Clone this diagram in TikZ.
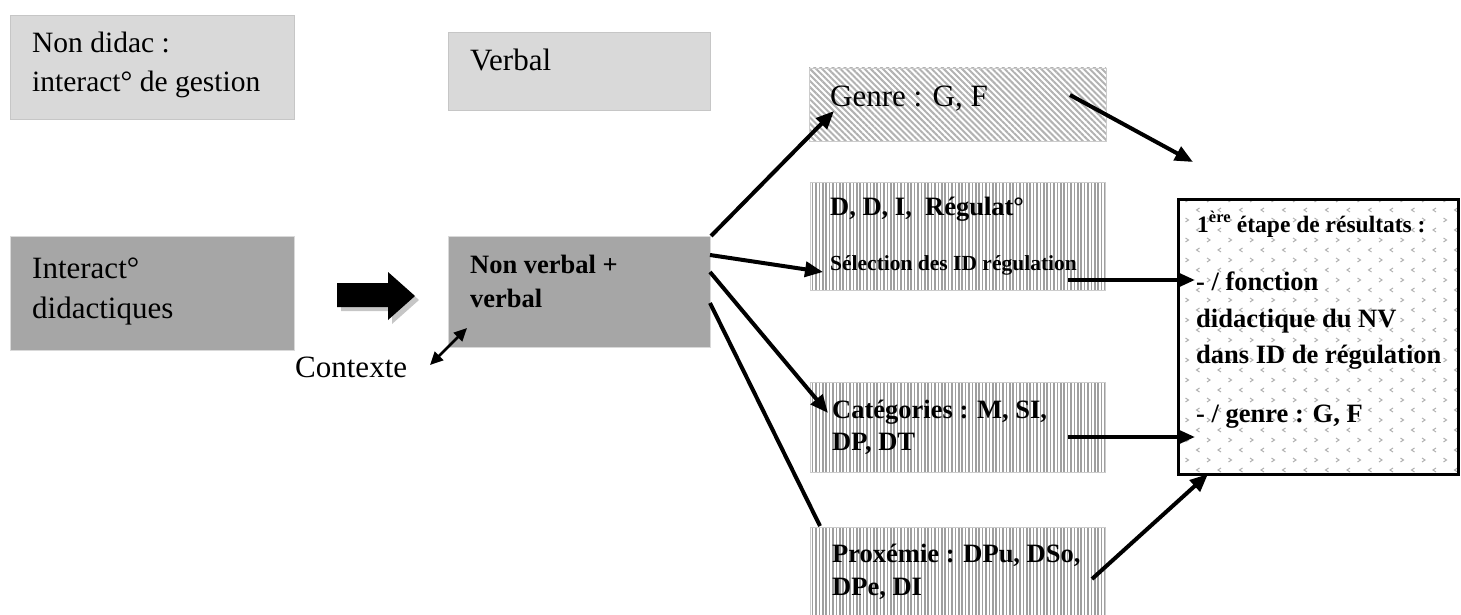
\documentclass[tikz,border=0pt]{standalone}
\usepackage{fontspec}
\setmainfont{Liberation Serif}
\usetikzlibrary{arrows.meta,patterns,patterns.meta,calc}

\pgfdeclarepatternformonly{chevrons}{\pgfpoint{-1pt}{-1pt}}{\pgfpoint{22.5pt}{21pt}}{\pgfpoint{21.5pt}{20pt}}{
  \pgfsetlinewidth{1pt}
  \pgfpathmoveto{\pgfpoint{3pt}{17pt}}\pgfpathlineto{\pgfpoint{6pt}{15pt}}\pgfpathlineto{\pgfpoint{3pt}{13pt}}
  \pgfpathmoveto{\pgfpoint{17pt}{7pt}}\pgfpathlineto{\pgfpoint{14pt}{5pt}}\pgfpathlineto{\pgfpoint{17pt}{3pt}}
  \pgfusepath{stroke}
}

\newcommand\fsreg{\fontsize{31}{38}\selectfont}
\newcommand\fsnd{\fontsize{29.5}{38}\selectfont}
\newcommand\fsbold{\fontsize{26.5}{32}\selectfont\bfseries}
\newcommand\fsboldsm{\fontsize{23.5}{28}\selectfont\bfseries}
\newcommand\fssmall{\fontsize{21.5}{26}\selectfont\bfseries}

\definecolor{lightg}{HTML}{D9D9D9}
\definecolor{darkg}{HTML}{A6A6A6}

\tikzset{
  box/.style={rectangle, inner sep=0pt, anchor=north west},
  lightbox/.style={box, draw=gray!45, fill=lightg, line width=1pt},
  darkbox/.style={box, draw=lightg, fill=darkg, line width=1pt},
  diagbox/.style={box, draw=gray!40, line width=0.8pt, pattern={Lines[angle=-45,distance=4.3pt,line width=2pt]}, pattern color=gray!60},
  vertbox/.style={box, draw=gray!40, line width=0.8pt, pattern={Lines[angle=90,distance=3.4pt,line width=1.7pt]}, pattern color=gray!75},
  resbox/.style={box, draw=black, line width=3pt, pattern=chevrons, pattern color=gray!60},
  txt/.style={anchor=base west, inner sep=0pt},
  arr/.style={line width=4pt, -{Triangle[length=18pt,width=15pt]}},
  plain/.style={line width=4pt},
  darr/.style={line width=2.5pt, {Triangle[length=13pt,width=12pt]}-{Triangle[length=13pt,width=12pt]}}
}

\begin{document}
\begin{tikzpicture}[x=1pt,y=-1pt]
\useasboundingbox (0,0) rectangle (1461,615);

% boxes
\node[lightbox, minimum width=284pt, minimum height=104pt] (nd) at (10,15) {};
\node[lightbox, minimum width=262pt, minimum height=78pt] (verb) at (448,32) {};
\node[darkbox, minimum width=284pt, minimum height=114pt] (inter) at (10,236) {};
\node[darkbox, minimum width=262pt, minimum height=111pt] (nv) at (448,236) {};
\node[diagbox, minimum width=297pt, minimum height=73pt] (genre) at (808,67) {};
\node[vertbox, minimum width=295pt, minimum height=108pt] (ddi) at (810,182) {};
\node[vertbox, minimum width=295pt, minimum height=90pt] (cat) at (810,382) {};
\node[vertbox, minimum width=295pt, minimum height=95pt] (prox) at (810,527) {};
\node[resbox, minimum width=280pt, minimum height=275pt] (res) at (1177,198) {};

% big arrow with shadow
\fill[gray!45] (341,287) -- (392,287) -- (392,276) -- (419,300) -- (392,324) -- (392,311) -- (341,311) -- cycle;
\fill[black] (337,283) -- (388,283) -- (388,272) -- (415,296) -- (388,320) -- (388,307) -- (337,307) -- cycle;

% texts
\node[txt] (nd1) at (32,53) {\fsnd Non didac :};
\node[txt] (nd2) at (32,92) {\fsnd interact° de gestion};
\node[txt] (verbt) at (470,71) {\fsreg Verbal};
\node[txt] (int1) at (32,278) {\fsreg Interact°};
\node[txt] (int2) at (32,318) {\fsreg didactiques};
\node[txt] (nv1) at (470,273) {\fsbold Non verbal +};
\node[txt] (nv2) at (470,307) {\fsbold verbal};
\node[txt] (ctx) at (295,377) {\fsreg Contexte};
\node[txt] (gt) at (830,107) {\fsreg Genre : G, F};
\node[txt] (ddi1) at (830,215) {\fsbold D, D, I,\ \ Régulat°};
\node[txt] (ddi2) at (830,270) {\fssmall Sélection des ID régulation};
\node[txt] (cat1) at (832,418) {\fsbold Catégories : M, SI,};
\node[txt] (cat2) at (832,450) {\fsbold DP, DT};
\node[txt] (prox1) at (832,562) {\fsbold Proxémie : DPu, DSo,};
\node[txt] (prox2) at (832,595) {\fsbold DPe, DI};
\node[txt] (r1) at (1197,232) {\fsboldsm 1\textsuperscript{ère} étape de résultats :};
\node[txt] (r2) at (1196,290) {\fsbold - / fonction};
\node[txt] (r3) at (1196,327) {\fsbold didactique du NV};
\node[txt] (r4) at (1196,363) {\fsbold dans ID de régulation};
\node[txt] (r5) at (1196,422) {\fsbold - / genre : G, F};

% connector end points
\coordinate (c1a) at (710,255);
\coordinate (c1b) at (710,272);
\coordinate (c1c) at (710,303);
\coordinate (g1) at (834,111);
\coordinate (d1) at (823,272);
\coordinate (k1) at (828,413);
\coordinate (p1) at (820,526);
\coordinate (gs) at (1070,95);
\coordinate (ge) at (1193,162);
\coordinate (ds) at (1068,280);
\coordinate (de) at (1195,280);
\coordinate (ks) at (1068,437);
\coordinate (ke) at (1195,437);
\coordinate (ps) at (1092,579);
\coordinate (pe) at (1208,474);
\coordinate (cx1) at (430,365);
\coordinate (cx2) at (467,328);

% connectors
\draw[arr] (nv.north east) -- (g1);
\draw[arr] (c1a) -- (d1);
\draw[arr] (c1b) -- (k1);
\draw[plain] (c1c) -- (p1);
\draw[arr] (gs) -- (ge);
\draw[arr] (ds) -- (de);
\draw[arr] (ks) -- (ke);
\draw[arr] (ps) -- (pe);
\draw[darr] (cx1) -- (cx2);
\end{tikzpicture}
\end{document}
